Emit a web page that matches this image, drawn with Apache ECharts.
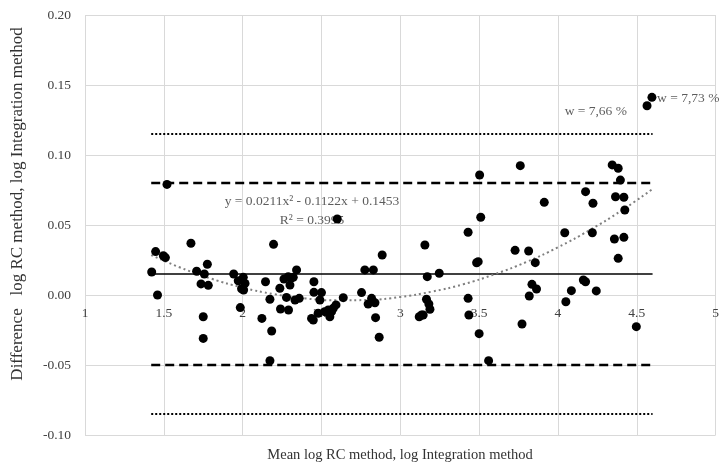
<!DOCTYPE html>
<html>
<head>
<meta charset="utf-8">
<script src="https://cdn.jsdelivr.net/npm/echarts@6/dist/echarts.min.js"></script>
<style>
  html, body { margin: 0; padding: 0; background: #fff; }
  #chart { width: 722px; height: 463px; }
</style>
</head>
<body>
<div id="chart"></div>
<script>
// differences vs means
var points = [
  [1.423, 0.0164], [1.448, 0.031], [1.46, 0.000], [1.497, 0.028], [1.51, 0.0267], [1.52, 0.079],
  [1.672, 0.037], [1.708, 0.017], [1.736, 0.0079], [1.75, -0.0155], [1.75, -0.031], [1.757, 0.015],
  [1.776, 0.022], [1.782, 0.0069], [1.943, 0.015], [1.972, 0.0102], [1.985, -0.009], [2.004, 0.0126],
  [1.993, 0.0045], [2.015, 0.0083], [2.006, 0.0036], [2.122, -0.0167], [2.145, 0.0095], [2.173, -0.003],
  [2.184, -0.0257], [2.196, 0.0362], [2.173, -0.047], [2.236, 0.0048], [2.24, -0.010], [2.262, 0.0114],
  [2.278, -0.0017], [2.291, -0.0107], [2.30, 0.0071], [2.306, 0.0119], [2.321, 0.0126], [2.332, -0.0036],
  [2.342, 0.0179], [2.359, -0.0024], [2.289, 0.013], [2.437, -0.0167], [2.448, -0.0179], [2.452, 0.0095],
  [2.452, 0.0019], [2.49, -0.0036], [2.50, 0.0017], [2.479, -0.013], [2.52, -0.0119], [2.543, -0.0107],
  [2.553, -0.0155], [2.564, -0.0119], [2.575, -0.0095], [2.592, -0.0071], [2.60, 0.0543], [2.638, -0.0019],
  [2.754, 0.0017], [2.775, 0.0179], [2.796, -0.0064], [2.818, -0.0024], [2.839, -0.0055], [2.829, 0.0179],
  [2.843, -0.0162], [2.866, -0.0302], [2.885, 0.0286], [3.12, -0.0155], [3.135, -0.0143], [3.145, -0.0143],
  [3.156, 0.0357], [3.171, 0.0131], [3.166, -0.003], [3.181, -0.0064], [3.188, -0.0102], [3.247, 0.0155],
  [3.43, 0.0448], [3.43, -0.0024], [3.435, -0.0143], [3.484, 0.023], [3.494, 0.0238], [3.50, -0.0276],
  [3.51, 0.0555], [3.56, -0.0469], [3.503, 0.0857], [3.761, 0.0924], [3.728, 0.0319], [3.814, 0.0314],
  [3.856, 0.0231], [3.913, 0.0662], [3.835, 0.0076], [3.864, 0.0043], [3.818, -0.0007], [3.772, -0.0207],
  [4.043, 0.0445], [4.05, -0.0048], [4.085, 0.0031], [4.161, 0.0107], [4.175, 0.0095], [4.175, 0.0738],
  [4.222, 0.0655], [4.218, 0.0445], [4.243, 0.0029], [4.344, 0.0929], [4.382, 0.0905], [4.396, 0.0821],
  [4.365, 0.0702], [4.418, 0.0698], [4.424, 0.0607], [4.358, 0.040], [4.418, 0.0412], [4.382, 0.0262],
  [4.497, -0.0226], [4.565, 0.1352], [4.596, 0.1412]
]

// polynomial trend, read at a few x positions
var trendX = [1.42, 1.6, 1.8, 2.0, 2.2, 2.4, 2.6, 2.8, 3.0, 3.2, 3.4, 3.6, 3.8, 4.0, 4.2, 4.4, 4.6]
var trendY = [0.0285, 0.0198, 0.0117, 0.0053, 0.0006, -0.0025, -0.0038, -0.0035, -0.0014, 0.0024, 0.0077, 0.0149, 0.0236, 0.0341, 0.0463, 0.0601, 0.0757]

// horizontal reference lines
var lineFrom = 1.42, lineTo = 4.6
var meanDiff = 0.015
var limits95 = [0.08, -0.05]
var limits99 = [0.115, -0.085]

var xTicks = { min: 1, max: 5, step: 0.5 }
var yTicks = { min: -0.1, max: 0.2, step: 0.05 }

var labels = [
  { at: [2.44, 0.0666], text: 'y = 0.0211x² - 0.1122x + 0.1453', pos: 'inside' },
  { at: [2.44, 0.0535], text: 'R² = 0.3995', pos: 'inside' },
  { at: [4.24, 0.131], text: 'w = 7,66 %', pos: 'inside' },
  { at: [4.6, 0.1405], text: 'w = 7,73 %', pos: 'right' }
]

var font = "'Liberation Serif', serif"

function hline(y, type, width) {
  return {
    type: 'line',
    data: [[lineFrom, y], [lineTo, y]],
    symbol: 'none',
    silent: true,
    z: 3,
    lineStyle: { color: '#000', width: width, type: type }
  }
}

var trend = trendX.map(function (x, i) { return [x, trendY[i]] })

var series = [
  {
    type: 'scatter',
    z: 1,
    symbolSize: 1,
    itemStyle: { color: 'rgba(0,0,0,0)' },
    data: labels.map(function (l) {
      return {
        value: l.at,
        label: { show: true, position: l.pos, distance: 4, formatter: l.text, color: '#333', fontFamily: font, fontSize: 13.5 }
      }
    })
  },
  hline(meanDiff, 'solid', 1.5),
  hline(limits95[0], [9, 5], 2.5),
  hline(limits95[1], [9, 5], 2.5),
  hline(limits99[0], [2, 2], 2),
  hline(limits99[1], [2, 2], 2),
  {
    type: 'line',
    data: trend,
    smooth: true,
    symbol: 'none',
    z: 3,
    lineStyle: { color: '#7f7f7f', width: 2, type: [2, 3] }
  },
  {
    type: 'scatter',
    data: points,
    symbolSize: 9,
    z: 5,
    itemStyle: { color: '#000', opacity: 1 }
  }
]

var myChart = echarts.init(document.getElementById('chart'), null, { renderer: 'canvas' })

myChart.setOption({
  animation: false,
  backgroundColor: '#fff',
  grid: { left: 85, right: 2, top: 15, bottom: 28, containLabel: false },
  xAxis: {
    type: 'value',
    min: xTicks.min,
    max: xTicks.max,
    interval: xTicks.step,
    // labels sit along the zero line, like the original
    offset: -140,
    axisLine: { show: false, onZero: false },
    axisTick: { show: false },
    axisLabel: { margin: 11, color: '#404040', fontFamily: font, fontSize: 13.5 },
    splitLine: { show: true, lineStyle: { color: '#d9d9d9', width: 1 } }
  },
  yAxis: {
    type: 'value',
    min: yTicks.min,
    max: yTicks.max,
    interval: yTicks.step,
    axisLine: { show: false },
    axisTick: { show: false },
    axisLabel: {
      margin: 14,
      color: '#404040',
      fontFamily: font,
      fontSize: 13.5,
      formatter: function (v) { return v.toFixed(2) }
    },
    splitLine: { show: true, lineStyle: { color: '#d9d9d9', width: 1 } }
  },
  graphic: [
    {
      type: 'text',
      x: 18, y: 204,
      rotation: Math.PI / 2,
      style: {
        text: 'Difference   log RC method, log Integration method',
        align: 'center', verticalAlign: 'middle',
        fill: '#333', font: '17px ' + font
      }
    },
    {
      type: 'text',
      x: 400, y: 455,
      style: {
        text: 'Mean log RC method, log Integration method',
        align: 'center', verticalAlign: 'middle',
        fill: '#333', font: '14.5px ' + font
      }
    }
  ],
  series: series
})
</script>
</body>
</html>
